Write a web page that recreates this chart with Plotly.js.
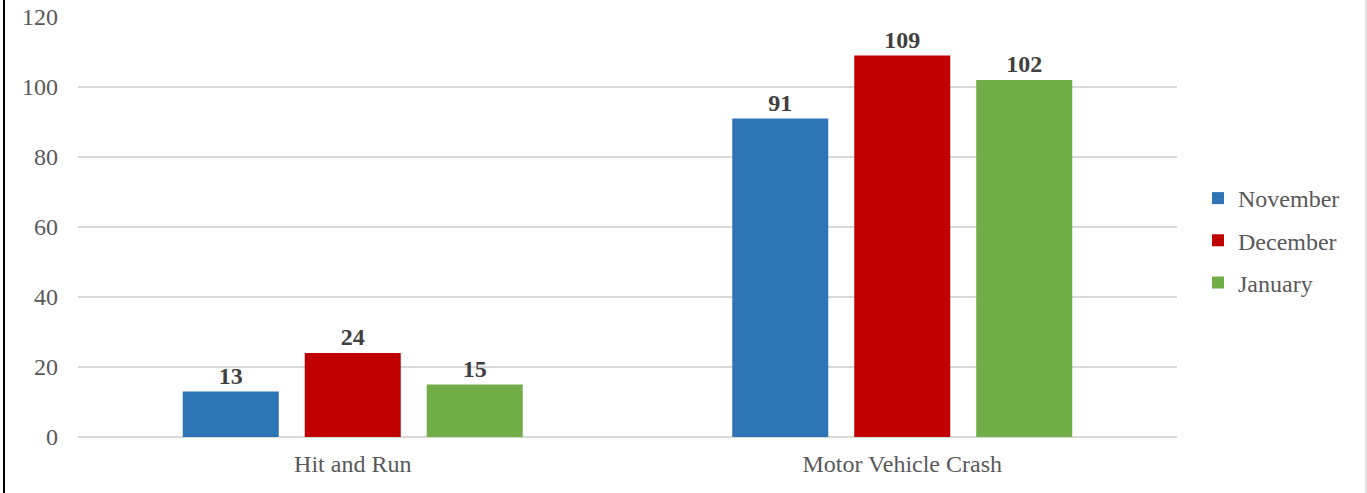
<!DOCTYPE html>
<html>
<head>
<meta charset="utf-8">
<script src="https://cdn.plot.ly/plotly-3.0.1.min.js"></script>
<style>
html,body{margin:0;padding:0;background:#fff;}
#chart{width:1367px;height:493px;}
</style>
</head>
<body>
<div id="chart"></div>
<script>
const categories = ["Hit and Run", "Motor Vehicle Crash"];
const november = [13, 91];
const december = [24, 109];
const january = [15, 102];
const seriesNames = ["November", "December", "January"];
const seriesColors = ["#2E75B6", "#C00000", "#70AD47"];
const yTicks = [0, 20, 40, 60, 80, 100, 120];

const values = [november, december, january];
const traces = values.map((v, i) => ({
  type: "bar",
  name: seriesNames[i],
  x: categories,
  y: v,
  legendgroup: seriesNames[i],
  marker: {color: seriesColors[i]},
  text: v.map(String),
  textposition: "outside",
  cliponaxis: false,
  textfont: {family: "Liberation Serif, Times New Roman, serif", size: 24, color: "#404040", weight: "bold"},
  hoverinfo: "none"
}));

const layout = {
  width: 1367,
  height: 493,
  margin: {l: 78, r: 190, t: 17, b: 56},
  paper_bgcolor: "#fff",
  plot_bgcolor: "#fff",
  barmode: "group",
  bargap: 0.334,
  bargroupgap: 0.213,
  font: {family: "Liberation Serif, Times New Roman, serif", size: 24, color: "#595959"},
  xaxis: {
    showgrid: false,
    showline: false,
    ticks: "",
    tickfont: {size: 24, color: "#595959"},
    ticklabelstandoff: 10
  },
  yaxis: {
    range: [0, 120],
    tickvals: yTicks,
    ticktext: yTicks.map(String),
    showgrid: true,
    gridcolor: "#D9D9D9",
    gridwidth: 1.5,
    zeroline: true,
    zerolinecolor: "#D9D9D9",
    zerolinewidth: 1.5,
    showline: false,
    ticks: "",
    ticklabelstandoff: 19,
    tickfont: {size: 24, color: "#595959"}
  },
  legend: {
    x: (1198 - 78) / 1099,
    y: (437 - 176) / 420,
    xanchor: "left",
    yanchor: "top",
    font: {size: 24, color: "#595959"},
    tracegroupgap: 8,
    itemwidth: 30
  },
  shapes: [
    {type: "line", xref: "paper", yref: "paper", x0: -74/1099, x1: -74/1099, y0: -56/420, y1: 1 + 17/420, line: {color: "#000", width: 2}},
    {type: "line", xref: "paper", yref: "paper", x0: 1288/1099, x1: 1288/1099, y0: -56/420, y1: 1 + 17/420, line: {color: "#D9D9D9", width: 1.5}}
  ],
  showlegend: true
};

Plotly.newPlot("chart", traces, layout, {displayModeBar: false, staticPlot: true});
</script>
</body>
</html>
